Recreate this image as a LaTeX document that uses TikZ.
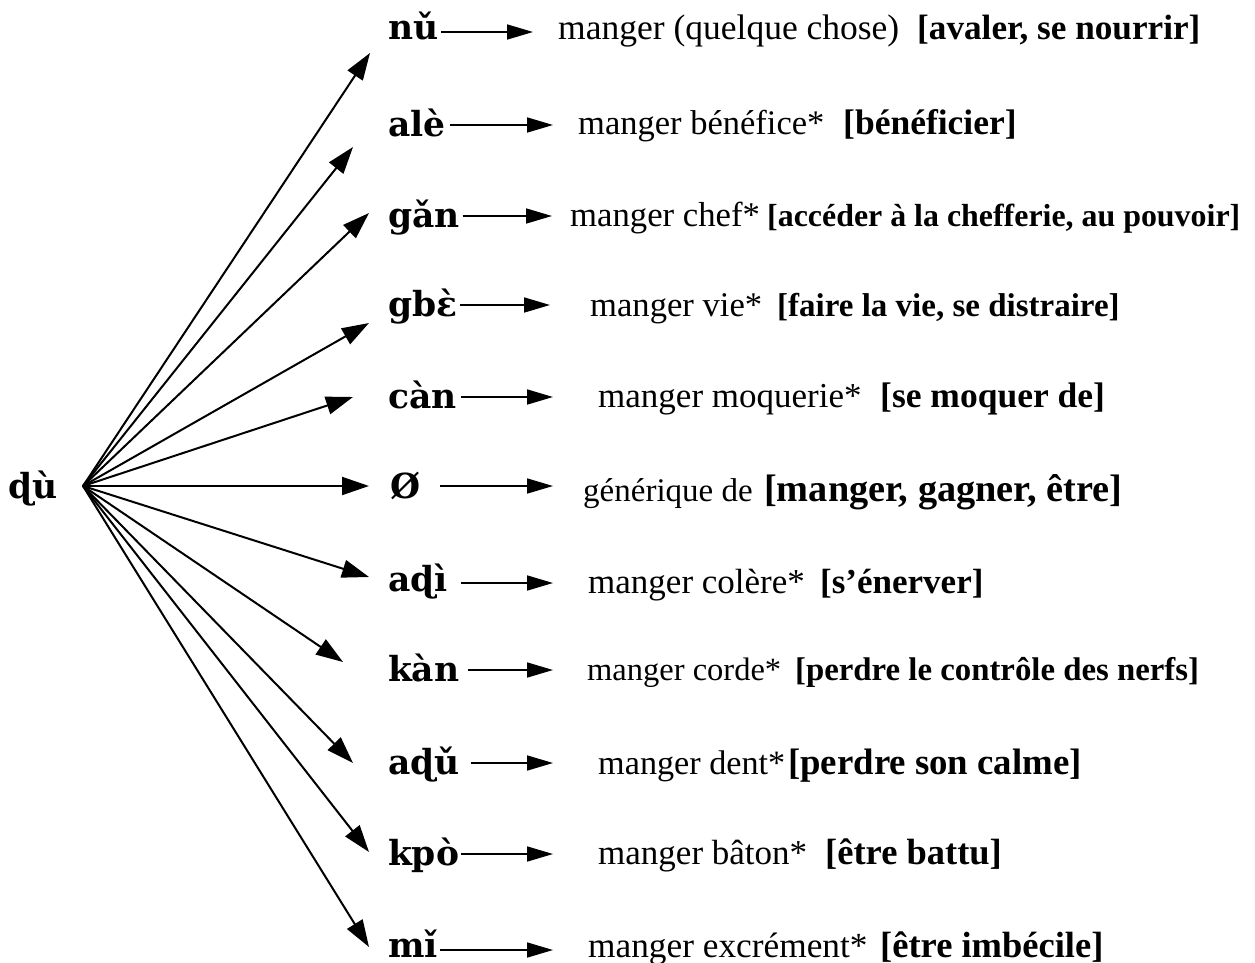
\documentclass[tikz,border=0pt]{standalone}
\usepackage{fontspec}
\setmainfont{Liberation Serif}
\newfontfamily\wordfont{DejaVu Serif}
\usetikzlibrary{arrows.meta}
\tikzset{
  word/.style={anchor=base west, inner sep=0pt, outer sep=0pt, font=\wordfont\bfseries\fontsize{34.5}{40}\selectfont},
  gloss/.style={anchor=base west, inner sep=0pt, font=\fontsize{#1}{#1}\selectfont},
  meaning/.style={anchor=base west, inner sep=0pt, font=\bfseries\fontsize{#1}{#1}\selectfont},
  fan/.style={line width=2pt, -{Triangle[length=27pt,width=18pt]}},
  harrow/.style={line width=1.7pt, -{Triangle[length=26pt,width=15pt]}},
}
\begin{document}
\begin{tikzpicture}[x=1pt,y=-1pt]
\useasboundingbox (0,0) rectangle (1255,963);
% source
\node[word, anchor=base east] (src-label) at (58,498) {ɖù};
\coordinate (src) at (83,486);
% tips of the fan
\coordinate (t1) at (370,53);
\coordinate (t2) at (353,147);
\coordinate (t3) at (369,213);
\coordinate (t4) at (369,323);
\coordinate (t5) at (353,397);
\coordinate (t6) at (369,486);
\coordinate (t7) at (369,577);
\coordinate (t8) at (343,662);
\coordinate (t9) at (353,763);
\coordinate (t10) at (369,852);
\coordinate (t11) at (369,947);
\foreach \i in {1,...,11} \draw[fan] (src) -- (t\i);
% words
\node[word] (w1) at (388,40) {nǔ};
\node[word] (w2) at (388,136) {alè};
\node[word] (w3) at (388,227) {gǎn};
\node[word] (w4) at (388,316) {gbɛ̀};
\node[word] (w5) at (388,408) {càn};
\node[word] (w6) at (390,498) {Ø};
\node[word] (w7) at (388,591) {aɖì};
\node[word] (w8) at (388,681) {kàn};
\node[word] (w9) at (388,774) {aɖǔ};
\node[word] (w10) at (388,865) {kpò};
\node[word] (w11) at (388,957) {mǐ};
% arrow tips
\coordinate (h1) at (533,32);
\coordinate (h2) at (553,125);
\coordinate (h3) at (552,216);
\coordinate (h4) at (550,305);
\coordinate (h5) at (553,397);
\coordinate (h6) at (553,486);
\coordinate (h7) at (553,583);
\coordinate (h8) at (553,670);
\coordinate (h9) at (553,763);
\coordinate (h10) at (553,854);
\coordinate (h11) at (553,950);
\draw[harrow] ([xshift=3pt]w1.east |- h1) -- (h1);
\draw[harrow] ([xshift=5pt]w2.east |- h2) -- (h2);
\draw[harrow] ([xshift=3pt]w3.east |- h3) -- (h3);
\draw[harrow] ([xshift=3pt]w4.east |- h4) -- (h4);
\draw[harrow] ([xshift=5pt]w5.east |- h5) -- (h5);
\draw[harrow] ([xshift=20pt]w6.east |- h6) -- (h6);
\draw[harrow] ([xshift=13pt]w7.east |- h7) -- (h7);
\draw[harrow] ([xshift=9pt]w8.east |- h8) -- (h8);
\draw[harrow] ([xshift=11pt]w9.east |- h9) -- (h9);
\draw[harrow] ([xshift=2pt]w10.east |- h10) -- (h10);
\draw[harrow] ([xshift=2pt]w11.east |- h11) -- (h11);
% glosses
\node[gloss=35.5] (g1) at (558,40) {manger (quelque chose)};
\node[gloss=34.5] (g2) at (578,135) {manger bénéfice*};
\node[gloss=34.7] (g3) at (570,226) {manger chef*};
\node[gloss=34.6] (g4) at (590,316) {manger vie*};
\node[gloss=35] (g5) at (598,407) {manger moquerie*};
\node[gloss=33] (g6) at (583,501) {générique de};
\node[gloss=35] (g7) at (588,593) {manger colère*};
\node[gloss=32.5] (g8) at (587,680) {manger corde*};
\node[gloss=34.2] (g9) at (598,774) {manger dent*};
\node[gloss=35] (g10) at (598,864) {manger bâton*};
\node[gloss=35.3] (g11) at (588,957) {manger excrément*};
% meanings
\node[meaning=35.2] (m1) at (917,40) {[avaler, se nourrir]};
\node[meaning=35.5] (m2) at (843,135) {[bénéficier]};
\node[meaning=31.9] (m3) at (767,226) {[accéder à la chefferie, au pouvoir]};
\node[meaning=33] (m4) at (777,316) {[faire la vie, se distraire]};
\node[meaning=35.5] (m5) at (880,407) {[se moquer de]};
\node[meaning=38.3] (m6) at (764,501) {[manger, gagner, être]};
\node[meaning=35] (m7) at (820,593) {[s’énerver]};
\node[meaning=32.8] (m8) at (795,680) {[perdre le contrôle des nerfs]};
\node[meaning=36.8] (m9) at (788,774) {[perdre son calme]};
\node[meaning=36.5] (m10) at (825,864) {[être battu]};
\node[meaning=36.5] (m11) at (880,957) {[être imbécile]};
\end{tikzpicture}
\end{document}
